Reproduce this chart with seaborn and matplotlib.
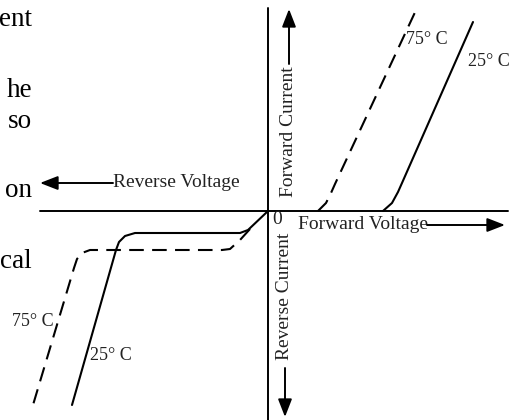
import matplotlib
matplotlib.use("Agg")
import matplotlib.pyplot as plt
import seaborn as sns

# schematic diode I-V curves (arbitrary units, origin at the axes crossing)
fwd_v_25 = [115, 124, 130, 134, 205]
fwd_i_25 = [0, 8, 19, 28, 189]
fwd_v_75 = [50, 58, 63, 67, 149]
fwd_i_75 = [0, 8, 18, 27, 203]

rev_v_25 = [0, -20, -28, -133, -143, -149, -152, -196]
rev_i_25 = [0, -19, -22, -22, -25, -31, -39, -194]
rev_v_75 = [-18, -28, -38, -46, -178, -186, -191, -194, -235]
rev_i_75 = [-18, -29, -38, -39, -39, -42, -48, -57, -194]

temp_labels = ["25\u00b0 C", "75\u00b0 C"]
side_text = ["ent", "he", "so", "on", "cal"]

sns.set_theme(style="white")
plt.rcParams["font.family"] = ["Liberation Serif", "DejaVu Serif"]

fig = plt.figure(figsize=(5.15, 4.2), dpi=100)
ax = fig.add_axes([0, 0, 1, 1])
ax.set_xlim(-268, 247)
ax.set_ylim(-209, 211)
ax.axis("off")

lw = 1.5
dash = (0, (7, 4))
sns.lineplot(x=fwd_v_25, y=fwd_i_25, sort=False, color="black", lw=lw, ax=ax)
sns.lineplot(x=rev_v_25, y=rev_i_25, sort=False, color="black", lw=lw, ax=ax)
sns.lineplot(x=fwd_v_75, y=fwd_i_75, sort=False, color="black", lw=lw,
             linestyle=dash, ax=ax)
sns.lineplot(x=rev_v_75, y=rev_i_75, sort=False, color="black", lw=lw,
             linestyle=dash, ax=ax)

# axes
ax.plot([-228, 240], [0, 0], color="black", lw=1.4)
ax.plot([0, 0], [-215, 203], color="black", lw=1.4)

tc = "#222222"
fs = 14
arrow = dict(arrowstyle="-|>,head_length=0.9,head_width=0.35", color="black",
             lw=1.4, shrinkA=0, shrinkB=0)

# reverse voltage
ax.annotate("", xy=(-228, 28), xytext=(-155, 28), arrowprops=arrow)
ax.text(-155, 28, "Reverse Voltage", fontsize=fs, color=tc, ha="left", va="center")
# forward voltage
ax.text(30, -14, "Forward Voltage", fontsize=fs, color=tc, ha="left", va="center")
ax.annotate("", xy=(237, -14), xytext=(159, -14), arrowprops=arrow)
# forward current
ax.text(21, 14, "Forward Current", fontsize=fs, color=tc, rotation=90,
        ha="center", va="bottom")
ax.annotate("", xy=(21, 202), xytext=(21, 147), arrowprops=arrow)
# reverse current
ax.text(17, -22, "Reverse Current", fontsize=fs, color=tc, rotation=90,
        ha="center", va="top")
ax.annotate("", xy=(17, -206), xytext=(17, -157), arrowprops=arrow)

ax.text(4, -9, "0", fontsize=fs, color=tc, ha="left", va="center")

# temperature labels
ax.text(200, 149, temp_labels[0], fontsize=13, color=tc, ha="left", va="center")
ax.text(138, 171, temp_labels[1], fontsize=13, color=tc, ha="left", va="center")
ax.text(-178, -144, temp_labels[0], fontsize=13, color=tc, ha="left", va="center")
ax.text(-256, -111, temp_labels[1], fontsize=13, color=tc, ha="left", va="center")

# cut-off body text from the page
side_y = [185, 114, 83, 14, -57]
for t, y in zip(side_text, side_y):
    ax.text(-236, y, t, fontsize=19.5, color="black", ha="right", va="baseline")

fig.savefig("out.png", dpi=100)
